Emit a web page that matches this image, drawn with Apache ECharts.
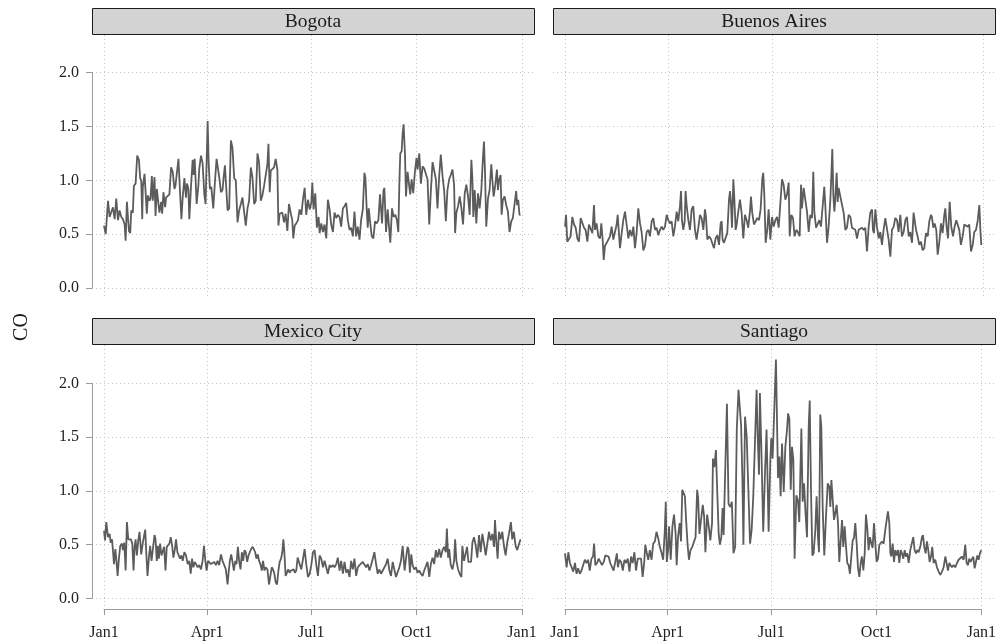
<!DOCTYPE html>
<html>
<head>
<meta charset="utf-8">
<script src="https://cdn.jsdelivr.net/npm/echarts@6/dist/echarts.min.js"></script>
<style>html,body{margin:0;padding:0;background:#fff}#c{width:999px;height:642px}</style>
</head>
<body>
<div id="c"></div>
<script>
// ---- data (day of year since Jan 1, CO value) ----
const cities = ['Bogota', 'Buenos Aires', 'Mexico City', 'Santiago'];
const tickDays = [0, 90, 181, 273, 365];
const tickLabels = ['Jan1', 'Apr1', 'Jul1', 'Oct1', 'Jan1'];
const yTicks = [0, 0.5, 1.0, 1.5, 2.0];
const yLabel = 'CO';

const bogota = [[0,0.58],[1.5,0.50],[3.5,0.81],[4.9,0.66],[6.4,0.67],[7.8,0.75],[9.3,0.64],[10.7,0.83],[12.2,0.63],[13.6,0.72],[15.1,0.66],[16.5,0.64],[18,0.59],[18.9,0.44],[20,0.80],[21.8,0.53],[22.9,0.51],[23.8,0.72],[25.2,0.70],[26.1,0.95],[27.6,0.97],[29,1.23],[30.5,1.19],[31.6,1.02],[32.5,1.00],[33.4,0.64],[33.9,0.94],[35.4,1.06],[36.3,1.07],[37.4,0.69],[38.3,0.86],[39.7,0.81],[40.6,0.83],[41.8,1.04],[42.6,0.81],[44.1,1.03],[45,0.67],[46.1,0.92],[47.6,0.92],[48.4,0.70],[49.9,0.80],[50.8,0.69],[51.9,0.89],[53.4,0.75],[54.2,0.84],[55.7,0.84],[57.1,0.87],[58.6,1.12],[60,1.08],[61.5,0.92],[62.4,0.95],[63.8,0.94],[65,1.20],[66.4,0.89],[67.6,0.64],[68.7,0.84],[70.2,1.02],[71.6,0.84],[72.5,0.97],[73.7,0.92],[74.5,0.64],[76,0.95],[77.4,1.19],[78.3,1.05],[79.2,1.20],[80.9,0.78],[82.4,0.95],[83.2,1.11],[84.7,1.23],[86.1,1.16],[87.6,0.87],[88.7,0.78],[90.5,1.55],[91.4,1.16],[92.5,0.92],[93.7,0.94],[95.4,0.74],[96.9,0.99],[98.3,1.20],[99.2,1.19],[100.6,1.03],[102.1,0.89],[103.5,0.91],[104.4,1.02],[105.6,1.14],[106.4,0.99],[107.9,0.72],[109.3,0.74],[110.8,1.37],[112.2,1.30],[113.7,1.02],[115.1,1.00],[116.6,0.61],[118,0.72],[119.5,0.78],[120.9,0.84],[122.4,0.84],[123.8,0.58],[125.3,0.74],[126.7,0.81],[128.2,1.12],[129.6,1.03],[131.1,0.78],[132.5,0.81],[134,1.25],[135.4,1.17],[136.9,0.81],[138.3,0.86],[139.8,0.95],[141.2,0.94],[142.7,1.15],[143.6,1.34],[144.7,0.89],[145.6,1.09],[147,1.09],[148.5,1.12],[149.9,1.20],[151.4,1.10],[152.3,0.58],[153.4,0.69],[154.6,0.69],[155.7,0.70],[157.2,0.61],[158.6,0.69],[160.1,0.53],[161.5,0.78],[163,0.70],[164.4,0.63],[165.3,0.46],[166.5,0.58],[167.9,0.60],[169.4,0.63],[170.8,0.73],[172.3,0.68],[173.7,0.82],[175.2,0.93],[176.6,0.68],[178.1,0.82],[179.6,0.73],[181,0.79],[181.9,0.98],[183,0.73],[184.5,0.88],[185.9,0.56],[187.4,0.66],[188.3,0.51],[189.7,0.60],[191.2,0.52],[192.6,0.59],[194.1,0.46],[195.5,0.82],[197,0.73],[198.4,0.59],[199.9,0.52],[201.3,0.70],[202.8,0.65],[204.2,0.68],[205.7,0.66],[207.1,0.57],[208.6,0.74],[210,0.76],[211.5,0.79],[212.9,0.63],[214.4,0.54],[215.8,0.56],[217.3,0.48],[218.7,0.71],[220.2,0.48],[221.6,0.57],[223.1,0.45],[224.5,0.63],[226,0.73],[227.4,1.07],[228.3,1.02],[229.4,0.73],[230.3,0.56],[231.2,0.74],[232.3,0.62],[233.8,0.48],[235.2,0.46],[236.7,0.62],[238.1,0.60],[239.6,0.63],[241,0.87],[241.9,0.87],[242.8,0.60],[244,0.90],[244.8,0.93],[246.3,0.52],[247.7,0.73],[249.2,0.74],[250,0.42],[251.5,0.74],[252.9,0.66],[254.4,0.68],[255.8,0.63],[257,0.52],[257.9,0.97],[258.7,1.25],[259.9,1.27],[260.8,1.44],[261.6,1.52],[262.8,1.25],[263.7,0.85],[265.1,1.08],[266.6,0.94],[267.4,0.87],[268.6,1.01],[270,0.88],[271.5,1.08],[272.9,1.21],[273.8,1.10],[275.3,1.25],[276.7,0.97],[278.2,1.13],[279.6,1.11],[281.1,1.10],[282.5,1.01],[284,0.59],[285.4,0.90],[286.9,1.17],[288.3,1.16],[289.8,1.01],[291.2,0.74],[292.7,1.04],[294.1,1.24],[295.6,1.04],[297,0.91],[298.5,0.62],[299.9,0.91],[301.4,1.01],[302.8,1.05],[304.3,1.10],[305.7,0.96],[306.6,0.51],[307.7,0.70],[309.2,0.76],[310.6,0.85],[312.1,0.74],[313.5,0.59],[315,0.88],[316.4,0.96],[317.9,0.85],[319.3,0.68],[320.8,1.19],[321.7,1.01],[322.5,0.66],[323.7,0.91],[325.1,0.60],[326.6,0.88],[328,0.74],[329.5,0.91],[330.9,1.21],[331.8,1.36],[332.7,1.08],[333.8,0.57],[335.3,0.83],[336.7,0.91],[338.2,1.15],[339.1,1.01],[340.2,0.85],[341.7,0.96],[343.1,1.10],[344,0.91],[344.9,1.00],[346.3,1.05],[347.2,0.68],[348.3,0.82],[349.8,0.85],[351.2,0.77],[352.7,0.71],[354.1,0.52],[355.6,0.62],[357,0.65],[358.5,0.66],[359.9,0.90],[360.8,0.77],[361.7,0.82],[362.8,0.68],[363.7,0.68]];

const buenosAires = [[0,0.57],[0.9,0.68],[2,0.43],[3.5,0.43],[4.9,0.48],[6.4,0.66],[7.9,0.59],[9.3,0.56],[10.8,0.46],[12.2,0.43],[13.7,0.65],[15.1,0.66],[16.6,0.56],[18,0.54],[19.5,0.43],[20.9,0.59],[22.4,0.60],[23.9,0.51],[25.3,0.77],[26.2,0.54],[27.6,0.60],[29.1,0.48],[30.6,0.46],[31.7,0.60],[32.9,0.45],[33.8,0.26],[34.9,0.39],[36.4,0.42],[37.8,0.42],[39.3,0.48],[40.7,0.57],[42.2,0.45],[43.6,0.46],[45.1,0.59],[46,0.68],[47.1,0.51],[48,0.37],[49.5,0.51],[50.9,0.63],[52.4,0.71],[53.8,0.59],[55.3,0.46],[56.7,0.54],[58.2,0.48],[59.7,0.57],[61.1,0.37],[62.6,0.52],[64,0.74],[65.5,0.60],[66.9,0.52],[68.4,0.35],[69.8,0.39],[71.3,0.52],[72.8,0.54],[74.2,0.48],[75.7,0.62],[77.1,0.65],[78.6,0.54],[80,0.56],[81.5,0.49],[82.9,0.54],[84.4,0.57],[85.8,0.54],[87.3,0.57],[88.8,0.68],[90.2,0.63],[91.7,0.60],[93.1,0.62],[94.6,0.48],[96,0.57],[97.5,0.71],[98.9,0.62],[100.4,0.76],[101.3,0.90],[102.1,0.63],[103.3,0.54],[104.5,0.62],[105.3,0.90],[106.2,0.77],[107.7,0.63],[109.1,0.54],[110.6,0.73],[112,0.76],[113.5,0.54],[114.9,0.45],[116.4,0.56],[117.9,0.68],[119.3,0.65],[120.8,0.54],[122.2,0.73],[123.1,0.66],[124.3,0.45],[125.7,0.48],[127.2,0.46],[128.6,0.45],[130.1,0.37],[131.5,0.46],[133,0.49],[134.5,0.40],[135.9,0.60],[136.8,0.62],[137.6,0.45],[138.8,0.42],[140.3,0.43],[141.7,0.51],[143.2,0.82],[144.1,0.90],[145,0.77],[145.8,0.56],[147,1.01],[147.8,0.85],[149,0.54],[149.9,0.59],[151.3,0.71],[152.8,0.82],[154.2,0.70],[155.7,0.46],[157.1,0.68],[158.6,0.63],[160,0.56],[161.5,0.71],[162.4,0.85],[163.5,0.70],[165,0.59],[166.4,0.60],[167.9,0.65],[169.4,0.63],[170.8,0.73],[172.3,1.02],[173.1,1.07],[174,0.88],[175.2,0.42],[176.6,0.54],[177.8,0.73],[179.3,0.45],[180.8,0.66],[182.2,0.57],[183.7,0.63],[185.1,0.66],[186.6,0.56],[188,0.57],[189.5,1.01],[190.9,0.96],[192.4,0.82],[193.9,0.87],[195.3,0.98],[196.2,0.48],[197.6,0.68],[199.1,0.65],[200.5,0.48],[202,0.54],[203.4,0.52],[204.9,0.48],[206.1,0.96],[206.9,0.74],[208.4,0.93],[209.8,0.94],[211.3,0.71],[212.8,0.52],[214.2,0.68],[215.7,0.65],[216.8,1.08],[217.7,0.71],[219.2,0.56],[220.6,0.56],[222.1,0.63],[223.5,0.57],[225,0.56],[226.4,0.94],[227.3,0.77],[228.8,0.42],[230.2,0.57],[231.7,0.82],[232.6,1.05],[233.4,1.29],[234.3,0.87],[235.2,0.71],[236,0.82],[237.2,1.07],[238.1,0.80],[238.9,0.93],[240.4,0.85],[241.9,0.85],[243.3,0.70],[244.8,0.54],[246.2,0.56],[247.7,0.68],[249.2,0.66],[250.6,0.56],[252.1,0.57],[253.5,0.54],[255,0.46],[256.4,0.54],[257.9,0.54],[259.3,0.56],[260.8,0.54],[262.2,0.56],[263.7,0.34],[265.1,0.56],[266.6,0.70],[268.1,0.73],[268.9,0.54],[269.8,0.51],[271,0.73],[272.4,0.57],[273.9,0.46],[275.3,0.52],[276.8,0.40],[278.2,0.54],[279.7,0.65],[281.1,0.66],[282.6,0.45],[284.1,0.29],[285.5,0.54],[287,0.57],[288.4,0.65],[289.9,0.63],[291.3,0.52],[292.8,0.68],[294.2,0.48],[295.7,0.52],[297.2,0.63],[298.6,0.66],[300.1,0.48],[301.5,0.52],[303,0.42],[304.4,0.70],[305.3,0.71],[306.5,0.54],[307.9,0.48],[309.4,0.40],[310.8,0.43],[312.3,0.35],[313.7,0.37],[315.2,0.51],[316.7,0.48],[318.1,0.62],[319.6,0.68],[320.4,0.66],[321.6,0.56],[322.8,0.60],[324.2,0.54],[325.4,0.31],[326.8,0.42],[328.3,0.60],[329.7,0.51],[331.2,0.68],[332.1,0.74],[333.2,0.57],[334.4,0.46],[335.9,0.80],[337.3,0.57],[338.8,0.48],[340.2,0.57],[341.7,0.63],[342.8,0.62],[344.3,0.54],[345.7,0.40],[347.2,0.48],[348.7,0.59],[350.1,0.60],[351.6,0.57],[353,0.59],[354.5,0.34],[356,0.40],[357.4,0.52],[358.9,0.54],[360.3,0.62],[361.8,0.77],[362.7,0.54],[363.5,0.40]];

const mexicoCity = [[0,0.63],[0.9,0.54],[2,0.71],[3.5,0.57],[4.9,0.60],[5.8,0.52],[7,0.55],[7.8,0.45],[8.7,0.32],[9.9,0.46],[10.7,0.37],[11.9,0.21],[13,0.37],[14.2,0.49],[15.7,0.51],[16.5,0.45],[17.7,0.52],[18.9,0.26],[20,0.71],[21.2,0.55],[22.3,0.54],[23.5,0.55],[24.7,0.51],[25.8,0.26],[26.7,0.48],[27.6,0.55],[28.7,0.40],[29.9,0.54],[31,0.62],[32.5,0.41],[33.9,0.52],[34.8,0.57],[36,0.64],[36.8,0.45],[38,0.21],[39.2,0.38],[40.3,0.49],[41.5,0.35],[42.6,0.45],[44.1,0.59],[45,0.55],[46.1,0.35],[47,0.49],[47.9,0.37],[49,0.51],[50.2,0.40],[51.3,0.41],[52.5,0.48],[53.7,0.26],[54.8,0.48],[56,0.49],[57.1,0.51],[58.3,0.57],[59.5,0.49],[60.6,0.38],[61.8,0.45],[62.9,0.55],[64.1,0.43],[65.3,0.43],[66.4,0.37],[67.6,0.40],[68.7,0.35],[70.2,0.43],[71.6,0.40],[73.1,0.32],[74.5,0.35],[75.7,0.23],[76.9,0.37],[78,0.29],[79.2,0.34],[80.3,0.35],[81.8,0.29],[83.2,0.31],[84.7,0.27],[86.1,0.35],[87.3,0.49],[88.5,0.35],[89.6,0.26],[90.8,0.35],[91.9,0.34],[93.4,0.32],[94.8,0.31],[96.3,0.34],[97.7,0.31],[99.2,0.35],[100.6,0.31],[102.1,0.41],[103.5,0.35],[105,0.31],[106.4,0.27],[107.9,0.13],[108.8,0.24],[109.9,0.35],[111.1,0.41],[112.2,0.34],[113.4,0.26],[114.6,0.35],[115.7,0.32],[116.9,0.48],[118,0.35],[119.2,0.27],[120.4,0.43],[121.5,0.35],[122.7,0.45],[123.8,0.43],[125,0.34],[126.2,0.40],[127.3,0.43],[128.5,0.46],[129.6,0.48],[130.8,0.46],[132,0.43],[133.1,0.37],[134.3,0.41],[135.4,0.35],[136.6,0.32],[137.8,0.26],[138.9,0.35],[140.1,0.26],[141.2,0.29],[142.7,0.27],[144.1,0.13],[145.3,0.21],[146.5,0.29],[147.6,0.27],[148.8,0.23],[149.9,0.15],[151.1,0.13],[152.3,0.26],[153.4,0.34],[154.6,0.37],[155.7,0.43],[156.6,0.55],[157.5,0.43],[158.6,0.21],[159.8,0.20],[160.9,0.27],[162.1,0.24],[163.3,0.26],[164.4,0.27],[165.6,0.27],[166.7,0.24],[167.9,0.26],[169.1,0.38],[170.8,0.38],[172.3,0.27],[173.7,0.26],[175.2,0.46],[176.6,0.32],[178.1,0.20],[179.6,0.23],[181,0.31],[182.5,0.43],[183.9,0.45],[185.4,0.31],[186.8,0.21],[188.3,0.40],[189.7,0.37],[191.2,0.29],[192.6,0.35],[194.1,0.35],[195.5,0.23],[197,0.31],[198.4,0.29],[199.9,0.31],[201.3,0.29],[202.8,0.32],[204.2,0.38],[205.7,0.26],[207.1,0.35],[208.6,0.23],[210,0.34],[211.5,0.24],[212.9,0.27],[214.4,0.20],[215.8,0.35],[217.3,0.27],[218.7,0.37],[220.2,0.21],[221.6,0.29],[223.1,0.31],[224.5,0.32],[226,0.34],[227.4,0.34],[228.9,0.29],[230.3,0.32],[231.8,0.26],[233.2,0.31],[234.7,0.37],[236.1,0.43],[237.6,0.32],[239,0.23],[240.5,0.27],[241.9,0.23],[243.4,0.26],[244.8,0.27],[246.3,0.32],[247.7,0.37],[249.2,0.26],[250.6,0.21],[252.1,0.34],[253.5,0.27],[255,0.20],[256.4,0.21],[257.9,0.29],[259.3,0.35],[260.8,0.49],[261.6,0.38],[262.5,0.26],[263.7,0.37],[265.1,0.48],[266,0.45],[267.1,0.24],[268.3,0.41],[269.5,0.31],[270.9,0.27],[272.4,0.29],[273.8,0.24],[275.3,0.26],[276.7,0.23],[278.2,0.21],[279.6,0.26],[281.1,0.26],[282.5,0.34],[284,0.20],[285.4,0.32],[286.9,0.38],[288.3,0.32],[289.8,0.45],[291.2,0.38],[292.7,0.46],[294.1,0.38],[295.6,0.45],[297,0.48],[298.5,0.43],[299.4,0.65],[300.5,0.38],[301.4,0.46],[302.8,0.31],[304.3,0.27],[305.7,0.35],[306.6,0.55],[307.7,0.35],[309.2,0.27],[310.6,0.23],[312.1,0.20],[312.9,0.49],[314.4,0.35],[315.8,0.34],[317,0.48],[318.2,0.34],[319.3,0.35],[320.5,0.34],[321.7,0.52],[323.1,0.57],[324.6,0.49],[326,0.38],[327.5,0.59],[328.9,0.43],[330.4,0.60],[331.8,0.51],[333.3,0.40],[334.7,0.51],[336.2,0.62],[337.6,0.54],[339.1,0.60],[340.6,0.48],[341.4,0.73],[342.5,0.54],[343.7,0.37],[344.9,0.62],[346.3,0.55],[347.8,0.62],[349.2,0.49],[350.7,0.40],[352.1,0.52],[353.6,0.60],[355.3,0.71],[356.5,0.55],[357.9,0.62],[359.4,0.49],[360.8,0.45],[362.3,0.46],[363.7,0.55]];

const santiago = [[0,0.42],[1.4,0.29],[2.9,0.43],[4.3,0.33],[5.8,0.29],[7.2,0.25],[8.7,0.33],[10.1,0.23],[11.5,0.28],[13,0.23],[14.4,0.26],[15.9,0.25],[17.3,0.36],[18.8,0.33],[20.2,0.36],[21.6,0.26],[23.1,0.37],[24.5,0.39],[25.4,0.51],[26.5,0.31],[28,0.33],[29.4,0.37],[30.9,0.36],[32.3,0.31],[33.8,0.34],[35.2,0.40],[36.6,0.40],[38.1,0.39],[39.5,0.33],[41,0.34],[42.4,0.26],[43.9,0.34],[45.3,0.42],[46.2,0.29],[47.6,0.36],[49,0.34],[50.5,0.26],[51.9,0.36],[53.4,0.33],[54.8,0.37],[56.3,0.25],[57.7,0.39],[59.1,0.33],[60.6,0.43],[62,0.26],[63.5,0.37],[64.9,0.36],[66.4,0.37],[67.8,0.20],[69.2,0.34],[70.1,0.50],[71.3,0.43],[72.7,0.36],[74.1,0.45],[75.6,0.36],[77,0.51],[78.5,0.53],[79.9,0.62],[81.4,0.56],[82.8,0.48],[84.2,0.43],[85.7,0.36],[87.1,0.62],[88,0.90],[88.9,0.34],[90,0.45],[90.9,0.67],[92.3,0.36],[93.8,0.67],[95.2,0.78],[96.6,0.60],[97.5,0.31],[98.7,0.57],[100.1,0.70],[101.3,0.53],[102.4,1.01],[103.9,1.01],[104.7,0.95],[105.9,0.70],[107,0.51],[108.2,0.36],[109.6,0.45],[111.1,0.48],[112.5,0.48],[114,0.57],[115.4,1.01],[116.3,0.93],[117.4,0.60],[118.9,0.74],[120.3,0.87],[121.5,0.76],[122.6,0.43],[124.1,0.78],[125.5,0.67],[126.9,0.54],[128.4,0.70],[129.2,1.30],[130.4,1.22],[131.8,1.38],[132.7,1.07],[134.2,0.60],[135.3,0.50],[136.5,0.57],[137.6,0.84],[138.5,0.59],[139.9,1.19],[141.4,1.81],[142.8,0.88],[144.3,0.85],[145.7,0.90],[147.1,0.42],[148.6,0.48],[150,1.57],[151.5,1.94],[152.9,1.74],[153.8,1.60],[154.9,1.12],[155.8,0.50],[157.2,1.69],[158.7,1.50],[160.1,1.01],[161.6,0.51],[163,0.64],[164.4,0.95],[165.9,0.95],[167.3,1.94],[168.2,1.53],[169.4,1.15],[170.2,1.91],[171.7,1.29],[173.1,0.62],[174.6,1.16],[176,1.57],[177.8,0.62],[179.3,1.29],[180.1,1.49],[181.3,1.30],[182.5,1.29],[184.2,2.22],[186,1.12],[187.2,1.32],[188.3,0.95],[189.5,1.44],[191,0.99],[192.4,1.41],[193.9,1.57],[194.8,1.72],[195.9,1.67],[197.1,1.01],[198.2,1.41],[199.4,1.29],[200.5,0.37],[202,0.96],[203.4,0.91],[204.6,0.71],[205.5,1.16],[206.4,1.58],[207.5,0.90],[208.7,1.07],[209.9,0.82],[211.3,0.57],[212.8,1.60],[213.7,1.84],[214.8,1.01],[216,0.40],[217.1,0.42],[218.6,0.64],[219.7,0.95],[220.9,0.57],[221.8,0.43],[222.9,1.71],[223.8,1.60],[225,0.85],[226.4,0.40],[227.9,0.76],[229.4,1.07],[230.8,1.04],[231.7,0.85],[232.6,1.10],[233.7,0.93],[234.9,0.73],[236,0.79],[237.2,0.87],[238.4,0.70],[239.5,0.34],[240.7,0.53],[241.9,0.73],[243,0.48],[244.2,0.67],[245.4,0.48],[246.5,0.33],[247.7,0.31],[248.8,0.23],[250,0.39],[251.2,0.54],[252.3,0.56],[253.5,0.70],[254.7,0.51],[255.8,0.29],[257,0.20],[258.2,0.33],[259.3,0.39],[260.5,0.26],[261.7,0.42],[262.8,0.78],[264,0.65],[265.1,0.45],[266.3,0.57],[267.5,0.51],[268.6,0.47],[269.8,0.70],[271,0.51],[272.1,0.34],[273.3,0.37],[274.5,0.50],[275.6,0.51],[276.8,0.53],[278.2,0.51],[279.7,0.64],[280.9,0.73],[282,0.81],[283.2,0.70],[284.1,0.42],[285,0.39],[286.1,0.51],[287.3,0.34],[288.4,0.45],[289.6,0.40],[290.8,0.45],[291.9,0.33],[293.1,0.45],[294.2,0.42],[295.4,0.37],[296.6,0.45],[297.7,0.39],[298.9,0.42],[300.1,0.33],[301.5,0.45],[303,0.45],[304.1,0.57],[305.3,0.45],[306.5,0.42],[307.6,0.45],[308.8,0.43],[310.2,0.48],[311.7,0.57],[312.6,0.59],[313.7,0.48],[314.9,0.42],[316.1,0.53],[317.2,0.45],[318.4,0.34],[319.6,0.39],[320.7,0.48],[321.9,0.33],[323.3,0.36],[324.8,0.29],[326.3,0.25],[327.7,0.22],[329.2,0.25],[330.6,0.29],[332.1,0.39],[333.2,0.33],[334.4,0.26],[335.6,0.33],[336.7,0.31],[337.9,0.29],[339.3,0.31],[340.8,0.29],[342.3,0.33],[343.7,0.36],[345.2,0.37],[346.6,0.39],[348.1,0.36],[349.5,0.50],[350.7,0.33],[351.9,0.31],[353,0.37],[354.2,0.34],[355.4,0.33],[356.5,0.39],[357.7,0.28],[358.8,0.29],[360,0.40],[361.2,0.36],[362.3,0.42],[363.5,0.45]];

const seriesData = [bogota, buenosAires, mexicoCity, santiago];

// ---- layout ----
const FONT = '"Liberation Serif", "DejaVu Serif", serif';
const COLS = [{pl: 92, x0: 104, x1: 522, pr: 534}, {pl: 553, x0: 565, x1: 983, pr: 995}];
const ROWS = [{st: 8, pt: 35, y2: 72.7, y0: 288, pb: 298, axis: false},
              {st: 318, pt: 345, y2: 383.3, y0: 598.5, pb: 609, axis: true}];
const gridColor = '#c4c4c4';
const axisColor = '#9a9a9a';
const textColor = '#222222';

const grids = [], xAxes = [], yAxes = [], series = [], graphics = [];

cities.forEach((name, i) => {
  const c = COLS[i % 2], r = ROWS[Math.floor(i / 2)];
  const leftCol = (i % 2) === 0;
  // data grid
  grids.push({left: c.x0, top: r.y2, width: c.x1 - c.x0, height: r.y0 - r.y2});
  xAxes.push({gridIndex: 3*i, type: 'value', min: 0, max: 365, show: false});
  yAxes.push({gridIndex: 3*i, type: 'value', min: 0, max: 2, show: false});
  // y axis + horizontal gridlines grid
  grids.push({left: c.pl, top: r.y2, width: c.pr - c.pl, height: r.y0 - r.y2});
  xAxes.push({gridIndex: 3*i+1, type: 'value', min: 0, max: 1, show: false});
  yAxes.push({gridIndex: 3*i+1, type: 'value', min: yTicks[0], max: yTicks[yTicks.length-1], interval: 0.5,
    axisLine: {show: leftCol, lineStyle: {color: axisColor, width: 1}},
    axisTick: {show: leftCol, length: 6, lineStyle: {color: axisColor, width: 1}},
    axisLabel: {show: leftCol, margin: 13, formatter: v => v.toFixed(1), fontFamily: FONT, fontSize: 16, color: textColor},
    splitLine: {show: true, lineStyle: {color: gridColor, type: [1, 3], width: 1}}
  });
  // x axis + vertical gridlines grid
  grids.push({left: c.x0, top: r.pt, width: c.x1 - c.x0, height: r.pb - r.pt});
  xAxes.push({gridIndex: 3*i+2, type: 'value', min: 0, max: 365, position: 'bottom', offset: r.axis ? 3 : 0,
    axisLine: {show: r.axis, lineStyle: {color: axisColor, width: 1}},
    axisTick: {show: r.axis, customValues: tickDays, length: 6, lineStyle: {color: axisColor, width: 1}},
    axisLabel: {show: r.axis, customValues: tickDays, margin: 13, fontFamily: FONT, fontSize: 16, color: textColor,
      formatter: v => tickLabels[tickDays.indexOf(v)]},
    splitLine: {show: true, lineStyle: {color: gridColor, type: [1, 3], width: 1}}
  });
  yAxes.push({gridIndex: 3*i+2, type: 'value', min: 0, max: 1, show: false});

  series.push({
    type: 'line', name: name, xAxisIndex: 3*i, yAxisIndex: 3*i,
    data: seriesData[i], showSymbol: false, symbol: 'none', clip: false,
    lineStyle: {color: '#5c5c5c', width: 1.8}, z: 5, animation: false
  });

  graphics.push({type: 'rect', shape: {x: c.pl + 0.5, y: r.st + 0.5, width: c.pr - c.pl, height: r.pt - r.st - 1},
    style: {fill: '#d3d3d3', stroke: '#1a1a1a', lineWidth: 1}, silent: true});
  graphics.push({type: 'text', x: (c.pl + c.pr) / 2, y: (r.st + r.pt) / 2 + 0.5,
    style: {text: name, align: 'center', verticalAlign: 'middle', font: '19.5px ' + FONT, fill: '#1a1a1a'}, silent: true});
});

graphics.push({type: 'text', x: 22, y: 327, rotation: Math.PI / 2,
  style: {text: yLabel, align: 'center', verticalAlign: 'middle', font: '20px ' + FONT, fill: '#1a1a1a'}, silent: true});

const chart = echarts.init(document.getElementById('c'), null, {renderer: 'canvas'});
chart.setOption({
  animation: false,
  backgroundColor: '#ffffff',
  grid: grids, xAxis: xAxes, yAxis: yAxes, series: series, graphic: graphics
});
</script>
</body>
</html>
